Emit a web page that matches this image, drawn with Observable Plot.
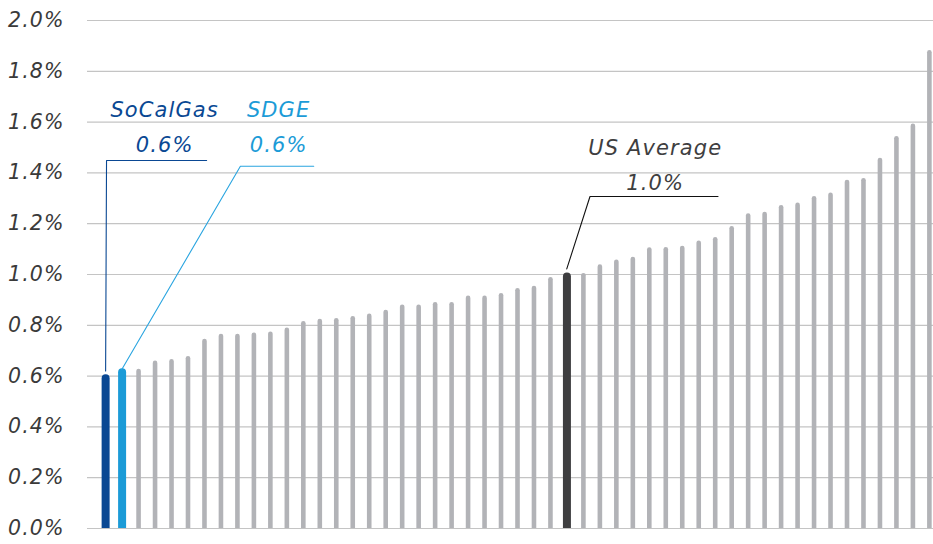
<!DOCTYPE html>
<html><head><meta charset="utf-8">
<script src="https://cdn.jsdelivr.net/npm/d3@7"></script>
<script src="https://cdn.jsdelivr.net/npm/@observablehq/plot@0.6"></script>
<style>body{margin:0;background:#fff;}</style>
</head><body><div id="chart"></div>
<script>
// Bar values in percent, sorted ascending
const values = [0.59,0.613,0.618,0.65,0.656,0.668,0.736,0.756,0.756,0.761,0.765,0.78,0.806,0.815,0.818,0.826,0.835,0.85,0.871,0.871,0.881,0.881,0.906,0.906,0.916,0.936,0.945,0.979,0.99,0.995,1.029,1.048,1.059,1.096,1.097,1.102,1.123,1.137,1.18,1.23,1.236,1.263,1.272,1.298,1.312,1.362,1.369,1.449,1.534,1.583,1.873];
const highlightNames = ["SoCalGas", "SDGE", "US Average"];
const highlightIndex = [0, 1, 28];
const highlightLabels = ["0.6%", "0.6%", "1.0%"];
const yTicks = [0, 0.2, 0.4, 0.6, 0.8, 1.0, 1.2, 1.4, 1.6, 1.8, 2.0];

const colors = {"SoCalGas": "#0a4893", "SDGE": "#1b9bd7", "US Average": "#3e3e40"};
const lineColors = {"SoCalGas": "#0a4893", "SDGE": "#2aa5e0", "US Average": "#111111"};

const bars = values.map((v, i) => {
  const h = highlightIndex.indexOf(i);
  return {i, v, kind: h >= 0 ? highlightNames[h] : "Other"};
});
const grayBars = bars.filter(d => d.kind === "Other");
const hlBars = bars.filter(d => d.kind !== "Other");

// annotation anchors in data units (x = bar index, y = value)
const annot = {
  "SoCalGas":   {tx: 3.58,  nameY: 1.646, valY: 1.508, leader: [[6.13,1.449],[0.055,1.449],[0.0,0.62]]},
  "SDGE":       {tx: 10.5,  nameY: 1.646, valY: 1.508, leader: [[12.63,1.426],[8.18,1.426],[0.98,0.626]]},
  "US Average": {tx: 33.36, nameY: 1.496, valY: 1.358, leader: [[37.17,1.307],[29.4,1.307],[27.99,1.022]]}
};
const nameTexts = highlightNames.map(n => ({n, x: annot[n].tx, y: annot[n].nameY, t: n}));
const valTexts = highlightNames.map((n, k) => ({n, x: annot[n].tx, y: annot[n].valY, t: highlightLabels[k]}));
const leaderPts = highlightNames.flatMap(n => annot[n].leader.map(([x, y]) => ({n, x, y})));

const chart = Plot.plot({
  width: 933, height: 544,
  marginLeft: 87, marginRight: 0, marginTop: 20, marginBottom: 16,
  style: {fontFamily: "DejaVu Sans", fontSize: "20.5px", fontStyle: "italic", letterSpacing: "1.1px", color: "#3a3a3a", background: "#fff"},
  x: {type: "linear", domain: [-1.1, 50.25], axis: null},
  y: {domain: [0, 2], ticks: yTicks, tickFormat: d => d.toFixed(1) + "%", tickSize: 0, tickPadding: 23, label: null},
  marks: [
    Plot.ruleY(yTicks, {stroke: "#c4c4c4", strokeWidth: 1.2}),
    Plot.ruleX(grayBars, {x: "i", y1: 0, y2: "v", stroke: "#b2b3b7", strokeWidth: 4.6, strokeLinecap: "round", insetTop: 2.3, clip: true}),
    Plot.ruleX(hlBars, {x: "i", y1: 0, y2: "v", stroke: d => colors[d.kind], strokeWidth: 8, strokeLinecap: "round", insetTop: 4, clip: true}),
    Plot.line(leaderPts, {x: "x", y: "y", z: "n", stroke: d => lineColors[d.n], strokeWidth: 1.1}),
    Plot.text(nameTexts, {x: "x", y: "y", text: "t", fill: d => colors[d.n], fontSize: 21, fontStyle: "italic"}),
    Plot.text(valTexts, {x: "x", y: "y", text: "t", fill: d => colors[d.n], fontSize: 21, fontStyle: "italic"})
  ]
});
document.getElementById("chart").appendChild(chart);
</script>
</body></html>
